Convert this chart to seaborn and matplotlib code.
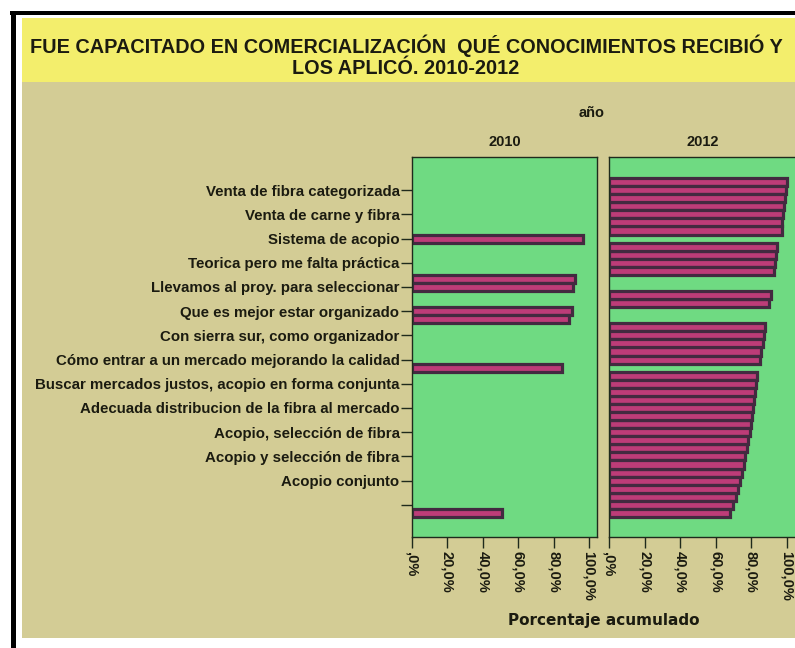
import matplotlib
matplotlib.use("Agg")
import matplotlib.pyplot as plt
from matplotlib.patches import Rectangle
import pandas as pd
import seaborn as sns

# ---------------- data ----------------
categories = [
    "Venta de fibra categorizada",
    "Venta de carne y fibra",
    "Sistema de acopio",
    "Teorica pero me falta práctica",
    "Llevamos al proy. para seleccionar",
    "Que es mejor estar organizado",
    "Con sierra sur, como organizador",
    "Cómo entrar a un mercado mejorando la calidad",
    "Buscar mercados justos, acopio en forma conjunta",
    "Adecuada distribucion de la fibra al mercado",
    "Acopio, selección de fibra",
    "Acopio y selección de fibra",
    "Acopio conjunto",
    "",
]
slots = ["a", "b", "c"]
years = ["2010", "2012"]

values_2010 = [
    [None, None, None],
    [None, None, None],
    [None, 96.4, None],
    [None, None, None],
    [92.0, 91.1, None],
    [None, 90.2, 88.9],
    [None, None, None],
    [None, None, 85.0],
    [None, None, None],
    [None, None, None],
    [None, None, None],
    [None, None, None],
    [None, None, None],
    [None, None, 51.0],
]
values_2012 = [
    [100.0, 99.5, 99.0],
    [98.4, 97.9, 97.4],
    [96.9, None, 94.6],
    [93.9, 93.2, 92.5],
    [None, None, 90.7],
    [89.6, None, None],
    [87.6, 87.0, 86.3],
    [85.6, 84.9, None],
    [83.3, 82.8, 82.2],
    [81.6, 81.0, 80.3],
    [79.6, 78.9, 78.2],
    [77.4, 76.6, 75.7],
    [74.7, 73.6, 72.4],
    [71.1, 69.6, 68.0],
]
x_ticks = [0, 20, 40, 60, 80, 100]
x_ticklabels = [",0%", "20,0%", "40,0%", "60,0%", "80,0%", "100,0%"]

title = "FUE CAPACITADO EN COMERCIALIZACIÓN  QUÉ CONOCIMIENTOS RECIBIÓ Y\nLOS APLICÓ. 2010-2012"
facet_title = "año"
x_label = "Porcentaje acumulado"

rows = []
for year, vals in zip(years, [values_2010, values_2012]):
    for cat, triple in zip(categories, vals):
        for s, v in zip(slots, triple):
            if v is not None:
                rows.append({"year": year, "category": cat, "slot": s, "value": v})
df = pd.DataFrame(rows)

# ---------------- style ----------------
W, H = 795, 648
KHAKI = "#d3cc95"
YELLOW = "#f3ee6c"
GREEN = "#6fda82"
PINK = "#bd3c78"
DARK = "#432a40"
TEXT = "#1b1b10"

sns.set_style("white")
plt.rcParams["font.family"] = ["Liberation Sans", "DejaVu Sans"]

fig = plt.figure(figsize=(W / 100, H / 100), dpi=100)
fig.patch.set_facecolor("white")


def rect(x0, y0, x1, y1, color, z=0):
    fig.add_artist(Rectangle((x0 / W, 1 - y1 / H), (x1 - x0) / W, (y1 - y0) / H,
                             transform=fig.transFigure, facecolor=color,
                             edgecolor="none", zorder=z))


# background bands and frame
rect(22, 82, W, 638, KHAKI, z=-10)
rect(22, 18, W, 82, YELLOW, z=-10)
rect(10, 11, W, 15, "black", z=-9)
rect(11, 11, 16, H, "black", z=-9)

fig.text(406 / W, 1 - 56 / H, title, ha="center", va="center", fontsize=14.3,
         fontweight="bold", color=TEXT, linespacing=1.12)

ax_h = 380 / H
ax_b = 1 - 537 / H
ax1 = fig.add_axes([412 / W, ax_b, 185 / W, ax_h])
ax2 = fig.add_axes([609 / W, ax_b, 187 / W, ax_h])

pal = {s: PINK for s in slots}
for ax, year, xmax in [(ax1, "2010", 104.5), (ax2, "2012", 105.0)]:
    sns.barplot(data=df[df["year"] == year], x="value", y="category", hue="slot",
                order=categories, hue_order=slots, orient="h", dodge=True,
                width=1.0, palette=pal, saturation=1, edgecolor=DARK,
                linewidth=2.3, errorbar=None, legend=False, ax=ax)
    ax.set_facecolor(GREEN)
    ax.set_xlim(0, xmax)
    ax.set_ylim(14.33, -1.37)
    ax.set_xlabel("")
    ax.set_ylabel("")
    for sp in ax.spines.values():
        sp.set_visible(True)
        sp.set_color("#1f2a1c")
        sp.set_linewidth(1.0)
    ax.set_xticks(x_ticks)
    ax.set_xticklabels(x_ticklabels, rotation=270, fontsize=10.5, fontweight="bold",
                       color=TEXT)
    ax.tick_params(axis="x", bottom=True, length=8, width=1, color="#1f2a1c", pad=2)
    fig.text((ax.get_position().x0 + ax.get_position().x1) / 2, 1 - 142 / H, year,
             ha="center", va="center", fontsize=10.5, fontweight="bold", color=TEXT)

ax1.set_yticks(range(len(categories)))
ax1.set_yticklabels(categories, fontsize=10.8, fontweight="bold", color=TEXT)
ax1.tick_params(axis="y", left=True, length=8, width=1, color="#1f2a1c", pad=1)
ax2.tick_params(axis="y", left=False, labelleft=False)

fig.text(592 / W, 1 - 113 / H, facet_title, ha="center", va="center", fontsize=10.5,
         fontweight="bold", color=TEXT)
fig.text(604 / W, 1 - 620 / H, x_label, ha="center", va="center", fontsize=11,
         fontweight="bold", color=TEXT, family="DejaVu Sans")

fig.savefig("out.png", dpi=100, facecolor=fig.get_facecolor())
